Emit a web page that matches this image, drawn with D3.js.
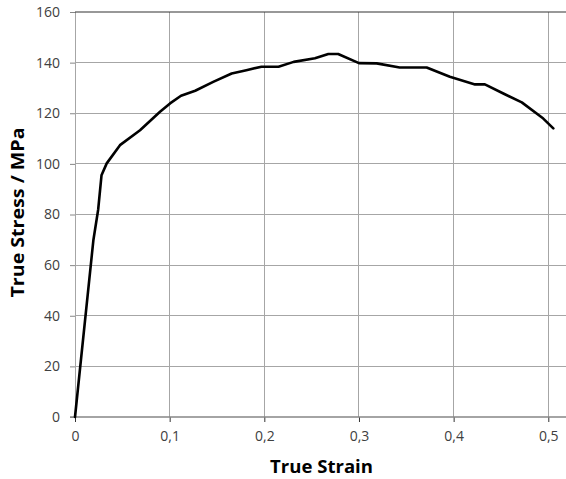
<!DOCTYPE html>
<html><head><meta charset="utf-8">
<script src="https://cdn.jsdelivr.net/npm/d3@7/dist/d3.min.js"></script>
<style>body{margin:0;background:#fff}svg{display:block}</style>
</head><body>
<script>
const strain = [0, 0.0194, 0.0245, 0.028, 0.0335, 0.0475, 0.0687, 0.0898, 0.1004, 0.112, 0.127, 0.146, 0.1655, 0.181, 0.197, 0.215, 0.231, 0.2535, 0.2676, 0.278, 0.3, 0.3187, 0.343, 0.3715, 0.396, 0.4226, 0.433, 0.4525, 0.472, 0.4947, 0.5053];
const stress = [0, 69.8, 82, 95.5, 100.2, 107.4, 113.3, 120.6, 123.9, 126.9, 128.9, 132.4, 135.7, 137, 138.4, 138.4, 140.3, 141.7, 143.4, 143.4, 139.8, 139.7, 138.1, 138.1, 134.4, 131.4, 131.4, 127.8, 124.3, 117.9, 114];
const xTicks = [0, 0.1, 0.2, 0.3, 0.4, 0.5];
const yTicks = [0, 20, 40, 60, 80, 100, 120, 140, 160];
const xTitle = "True Strain";
const yTitle = "True Stress / MPa";

(function () {
const W = 566, H = 479;
const pL = 75, pR = 566, pT = 12, pB = 417;
const x = d3.scaleLinear().domain([0, 0.5]).range([pL, 548.3]);
const y = d3.scaleLinear().domain([0, 160]).range([pB, pT]);
const svg = d3.select("body").append("svg").attr("width", W).attr("height", H);
const font = "'Open Sans', sans-serif";

// grid
svg.append("g").selectAll("line").data(xTicks).join("line")
  .attr("x1", d => x(d)).attr("x2", d => x(d)).attr("y1", pT).attr("y2", pB)
  .attr("stroke", "#a6a6a6").attr("stroke-width", 1).attr("shape-rendering", "crispEdges");
svg.append("g").selectAll("line").data(yTicks.filter(d => d > 0 && d < 160)).join("line")
  .attr("x1", pL).attr("x2", pR).attr("y1", d => y(d)).attr("y2", d => y(d))
  .attr("stroke", "#a6a6a6").attr("stroke-width", 1).attr("shape-rendering", "crispEdges");
// top border
svg.append("line").attr("x1", pL).attr("x2", pR).attr("y1", y(160)).attr("y2", y(160))
  .attr("stroke", "#333").attr("stroke-width", 1.2);

// axes
const xAxis = d3.axisBottom(x).tickValues(xTicks).tickSize(5).tickPadding(9)
  .tickFormat(d => d3.format("")(d).replace(".", ","));
const gx = svg.append("g").attr("transform", `translate(0,${pB})`).call(xAxis);
gx.select(".domain").remove();
gx.append("line").attr("x1", pL - 5).attr("x2", pR).attr("y1", 0).attr("y2", 0)
  .attr("stroke", "#868686").attr("stroke-width", 1.5);
gx.selectAll(".tick line").attr("stroke", "#333");
gx.selectAll("text").attr("font-family", font).attr("font-size", 14).attr("fill", "#404040");

const yAxis = d3.axisLeft(y).tickValues(yTicks).tickSize(5).tickPadding(10);
const gy = svg.append("g").attr("transform", `translate(${pL},0)`).call(yAxis);
gy.select(".domain").remove();
gy.selectAll(".tick line").attr("stroke", "#868686");
gy.selectAll("text").attr("font-family", font).attr("font-size", 14).attr("fill", "#404040");

// curve
const pts = strain.map((s, i) => [s, stress[i]]);
svg.append("path").datum(pts)
  .attr("d", d3.line().x(d => x(d[0])).y(d => y(d[1])))
  .attr("fill", "none").attr("stroke", "#000").attr("stroke-width", 2.6)
  .attr("stroke-linejoin", "round").attr("stroke-linecap", "round");

// titles
svg.append("text").attr("x", 321.5).attr("y", 473).attr("text-anchor", "middle")
  .attr("font-family", font).attr("font-weight", "bold").attr("font-size", 18)
  .attr("textLength", 103).attr("lengthAdjust", "spacingAndGlyphs")
  .attr("fill", "#000").text(xTitle);
svg.append("text").attr("transform", "translate(24,212.5) rotate(-90)").attr("text-anchor", "middle")
  .attr("font-family", font).attr("font-weight", "bold").attr("font-size", 18)
  .attr("textLength", 170).attr("lengthAdjust", "spacingAndGlyphs")
  .attr("fill", "#000").text(yTitle);
})();
</script>
</body></html>
